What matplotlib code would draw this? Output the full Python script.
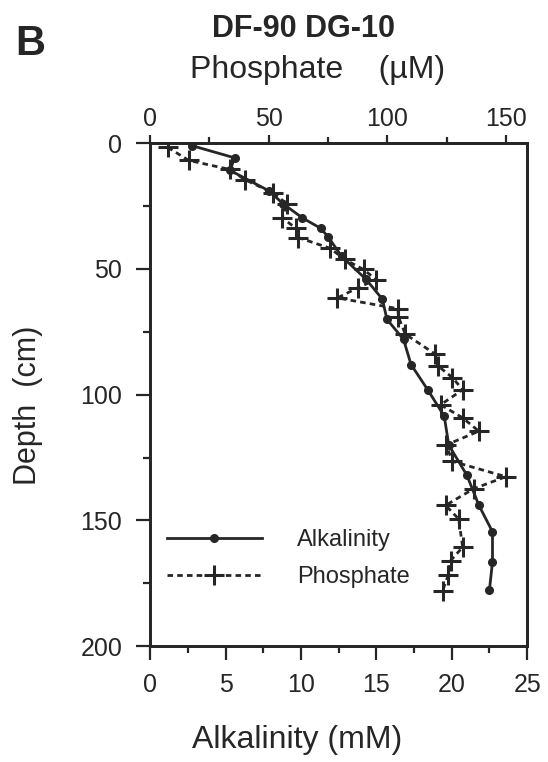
import matplotlib.pyplot as plt
from matplotlib.ticker import MultipleLocator

plt.rcParams["font.family"] = ["Liberation Sans", "DejaVu Sans"]

ink = "#262626"

# Alkalinity (mM) vs depth (cm)
alk_depth = [1, 5.8, 10.8, 19, 24, 29.7, 33.8, 37.2, 45, 54, 62, 70,
             78, 88, 98, 108.5, 120, 132, 144, 154.5, 166.5, 177.5]
alkalinity = [2.8, 5.6, 5.3, 7.9, 8.8, 10.1, 11.3, 11.8, 12.7, 14.3, 15.4, 15.7,
              16.8, 17.3, 18.4, 19.5, 19.8, 21.0, 21.8, 22.7, 22.7, 22.5]

# Phosphate (uM) vs depth (cm)
phos_depth = [1.6, 6.8, 10.4, 14.5, 19.7, 24, 29.7, 33.8, 37.5, 41.8, 46.2,
              50.2, 54.2, 57.5, 61.5, 65.8, 69, 75.9, 83.9, 88.4, 93.2, 98,
              104, 109.2, 114.5, 120, 126.5, 132.6, 137.4, 144, 149.4, 160.6,
              166, 171.5, 178]
phosphate = [7.4, 16.2, 33.5, 40, 51.7, 57.6, 55.7, 61.5, 62.5, 76, 82,
             90, 95.3, 87.5, 79, 104.5, 104.7, 107.6, 120.3, 121.2, 127.5, 131.8,
             122.5, 131.8, 138.6, 124.8, 127.5, 150, 136.4, 124.6, 130.1, 131.8,
             126.7, 125.8, 123.3]

alk_ticks = [0, 5, 10, 15, 20, 25]
phos_ticks = [0, 50, 100, 150]
depth_ticks = [0, 50, 100, 150, 200]

fig = plt.figure(figsize=(5.48, 7.62), dpi=100)
ax = fig.add_axes([0.274, 0.152, 0.688, 0.660])
ax2 = ax.twiny()

l1, = ax.plot(alkalinity, alk_depth, color=ink, linewidth=2.0, marker="o",
              markersize=5.5, label="Alkalinity")
l2, = ax2.plot(phosphate, phos_depth, color=ink, linewidth=2.0,
               linestyle=(0, (2.0, 1.5)), marker="+", markersize=14,
               markeredgewidth=2.2, label="Phosphate")

ax.set_xlim(0, 25)
ax.set_ylim(200, 0)
ax2.set_xlim(0, 159)

ax.set_xticks(alk_ticks)
ax.xaxis.set_minor_locator(MultipleLocator(2.5))
ax.set_yticks(depth_ticks)
ax.yaxis.set_minor_locator(MultipleLocator(25))
ax2.set_xticks(phos_ticks)
ax2.xaxis.set_minor_locator(MultipleLocator(25))

ax.tick_params(axis="x", which="both", direction="out", colors=ink,
               labelsize=18, pad=9, top=False)
ax.tick_params(axis="x", which="major", length=10, width=1.6)
ax.tick_params(axis="x", which="minor", length=5, width=1.6)
ax.tick_params(axis="y", which="both", direction="out", colors=ink,
               labelsize=18, pad=10, right=False)
ax.tick_params(axis="y", which="major", length=10, width=1.6)
ax.tick_params(axis="y", which="minor", length=5, width=1.6)
ax2.tick_params(axis="x", which="both", direction="out", colors=ink,
                labelsize=18, pad=3, bottom=False)
ax2.tick_params(axis="x", which="major", length=6, width=1.6)
ax2.tick_params(axis="x", which="minor", length=4, width=1.6)

for a in (ax, ax2):
    for s in a.spines.values():
        s.set_linewidth(2.0)
        s.set_color(ink)

ax.legend(handles=[l1, l2], loc="upper left", bbox_to_anchor=(0.045, 0.232),
          frameon=False, fontsize=17, handlelength=4.0, handletextpad=1.5,
          labelspacing=0.62, borderaxespad=0, borderpad=0, labelcolor=ink)

fig.text(0.055, 0.942, "B", fontsize=30, fontweight="bold", color=ink,
         ha="center", va="center")
fig.text(0.553, 0.962, "DF-90 DG-10", fontsize=22, fontweight="bold",
         color=ink, ha="center", va="center")
fig.text(0.58, 0.908, "Phosphate    (\u00b5M)", fontsize=23, color=ink,
         ha="center", va="center")
fig.text(0.542, 0.029, "Alkalinity (mM)", fontsize=23, color=ink,
         ha="center", va="center")
fig.text(0.052, 0.468, "Depth  (cm)", fontsize=22, color=ink, rotation=90,
         ha="center", va="center")

fig.savefig("out.png", dpi=100)
